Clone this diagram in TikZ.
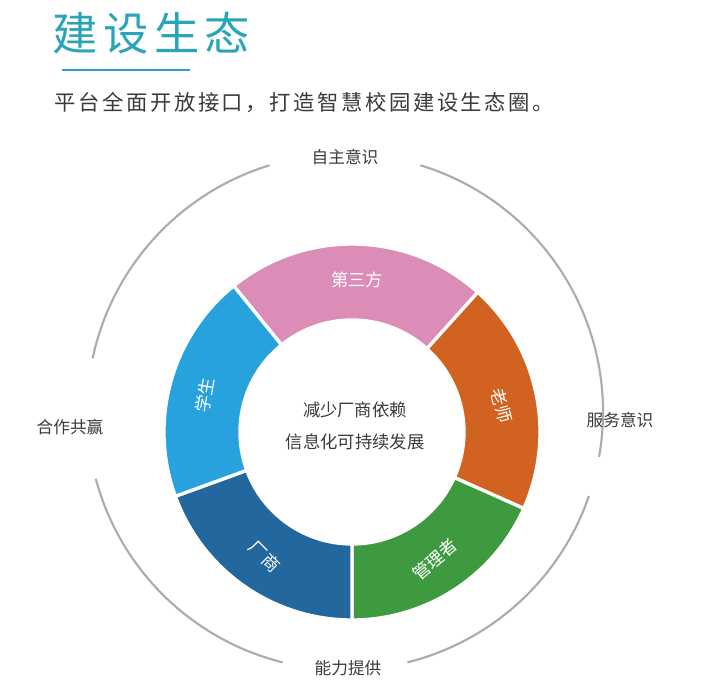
\documentclass[tikz,border=0pt]{standalone}
\usepackage{fontspec}
\newfontfamily\cjk{Noto Sans CJK SC}
\newfontfamily\cjkwide[LetterSpace=12]{Noto Sans CJK SC}
\definecolor{teal1}{HTML}{2AA5B8}
\definecolor{pinkseg}{HTML}{DB8DB8}
\definecolor{orangeseg}{HTML}{D2621F}
\definecolor{greenseg}{HTML}{3E9A3F}
\definecolor{dblueseg}{HTML}{23679F}
\definecolor{lblueseg}{HTML}{27A2DC}
\definecolor{arcgray}{HTML}{A9ADB1}
\definecolor{txtgray}{HTML}{3A3A3A}
\begin{document}
\begin{tikzpicture}
  [x=0.75pt,y=-0.75pt,
   seglabel/.style={font=\cjk\fontsize{13}{15}\selectfont,text=white},
   outlabel/.style={font=\cjk\fontsize{12.5}{15}\selectfont,text=txtgray},
   ring/.style={draw=white,line width=2.5pt}]
  \useasboundingbox (0,0) rectangle (708,700);
  % title
  \node[font=\cjkwide\fontsize{34}{36}\selectfont,text=teal1,anchor=west] (title) at (48,33) {建设生态};
  \draw[teal1,line width=1.2pt] (62,70) -- (190,70);
  \node[font=\cjkwide\fontsize{16}{18}\selectfont,text=txtgray,anchor=west] (sub) at (50,103) {平台全面开放接口，打造智慧校园建设生态圈。};
  % outer arcs
  \begin{scope}[shift={(345,412)},x=0.75pt,y=0.75pt]
    \draw[arcgray,line width=1.6pt] (73:258) arc (73:-10:258);
    \draw[arcgray,line width=1.6pt] (-19:258) arc (-19:-76:258);
    \draw[arcgray,line width=1.6pt] (-104:258) arc (-104:-165:258);
    \draw[arcgray,line width=1.6pt] (168:258) arc (168:107:258);
  \end{scope}
  \node[outlabel] (self) at (345,157) {自主意识};
  \node[outlabel] (coop) at (70,427) {合作共赢};
  \node[outlabel] (serv) at (620,420) {服务意识};
  \node[outlabel] (abil) at (348,668) {能力提供};
  % ring
  \begin{scope}[shift={(352,432)},x=0.75pt,y=0.75pt]
    \def\Ro{188}\def\Ri{112}
    \filldraw[ring,fill=pinkseg] (48:\Ro) arc (48:129:\Ro) -- (129:\Ri) arc (129:48:\Ri) -- cycle;
    \filldraw[ring,fill=orangeseg] (-24:\Ro) arc (-24:48:\Ro) -- (48:\Ri) arc (48:-24:\Ri) -- cycle;
    \filldraw[ring,fill=greenseg] (-90:\Ro) arc (-90:-24:\Ro) -- (-24:\Ri) arc (-24:-90:\Ri) -- cycle;
    \filldraw[ring,fill=dblueseg] (-160:\Ro) arc (-160:-90:\Ro) -- (-90:\Ri) arc (-90:-160:\Ri) -- cycle;
    \filldraw[ring,fill=lblueseg] (129:\Ro) arc (129:200:\Ro) -- (200:\Ri) arc (200:129:\Ri) -- cycle;
    \node[seglabel] (third) at (88:152) {第三方};
    \node[seglabel,rotate=-75] (teacher) at (10:152) {老师};
    \node[seglabel,rotate=40] (admin) at (-57:152) {管理者};
    \node[seglabel,rotate=-45] (vendor) at (-125:152) {厂商};
    \node[seglabel,rotate=80] (student) at (166:152) {学生};
  \end{scope}
  \node[font=\cjk\fontsize{13}{24}\selectfont,text=txtgray,align=center] (center) at (355,426) {减少厂商依赖\\信息化可持续发展};
\end{tikzpicture}
\end{document}
